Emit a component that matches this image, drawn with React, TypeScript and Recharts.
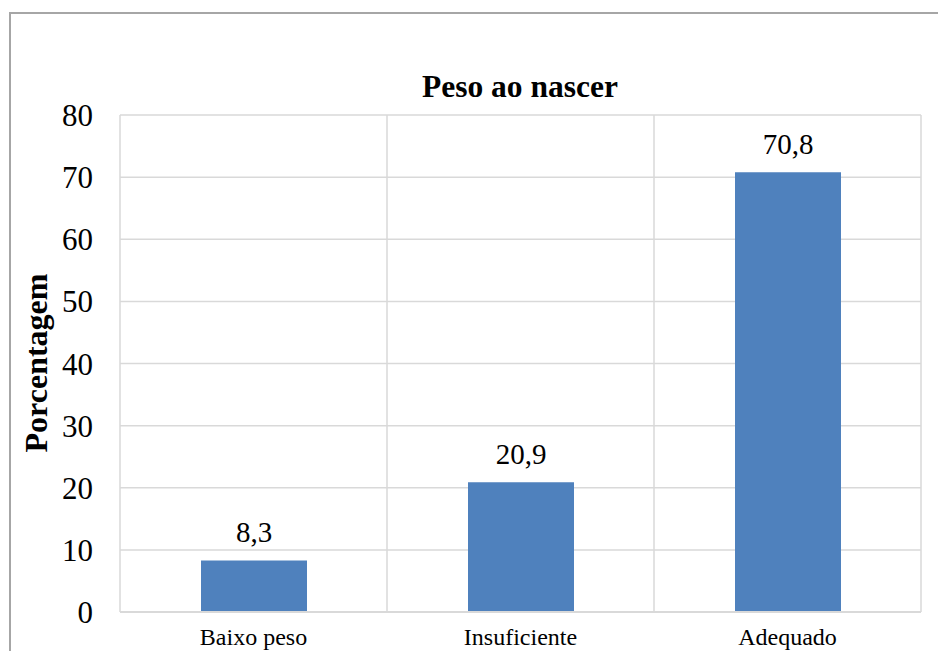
import { BarChart, Bar, XAxis, YAxis, CartesianGrid, LabelList } from "recharts";

const categories = ["Baixo peso", "Insuficiente", "Adequado"];
const values = [8.3, 20.9, 70.8];
const yTicks = [0, 10, 20, 30, 40, 50, 60, 70, 80];

const chartData = categories.map((name, i) => ({ name, value: values[i] }));

const serif = "Liberation Serif";
const gridColor = "#d9d9d9";

export default function App() {
  return (
    <div style={{ position: "absolute", left: 0, top: 0, width: 938, height: 651, overflow: "hidden", background: "#fff" }}>
      <div
        style={{
          position: "absolute",
          left: 9,
          top: 12,
          width: 960,
          height: 700,
          border: "2px solid #a6a6a6",
          boxSizing: "border-box",
        }}
      />
      <BarChart
        width={938}
        height={651}
        data={chartData}
        margin={{ top: 115, right: 17, bottom: 0, left: 60 }}
        style={{ position: "absolute", left: 0, top: 0, fontFamily: serif }}
      >
        <CartesianGrid
          stroke={gridColor}
          strokeWidth={1.5}
          verticalCoordinatesGenerator={({ offset }: any) =>
            [0, 1, 2, 3].map((i) => offset.left + (i * offset.width) / categories.length)
          }
        />
        <XAxis
          dataKey="name"
          height={39}
          axisLine={{ stroke: gridColor, strokeWidth: 2 }}
          tickLine={false}
          tickMargin={10}
          tick={{ fill: "#000", fontSize: 24, fontFamily: serif }}
        />
        <YAxis
          width={60}
          domain={[0, 80]}
          ticks={yTicks}
          axisLine={false}
          tickLine={false}
          tickMargin={21}
          tick={{ fill: "#000", fontSize: 31, fontFamily: serif }}
        />
        <Bar dataKey="value" fill="#4f81bd" barSize={106} isAnimationActive={false}>
          <LabelList
            dataKey="value"
            position="top"
            offset={18}
            formatter={(v: any) => String(v).replace(".", ",")}
            style={{ fill: "#000", fontSize: 29, fontFamily: serif }}
          />
        </Bar>
        <text x={520} y={97} textAnchor="middle" fontSize={31.5} fontWeight="bold" fontFamily={serif} fill="#000">
          Peso ao nascer
        </text>
        <text
          x={0}
          y={0}
          transform="translate(47, 363) rotate(-90)"
          textAnchor="middle"
          fontSize={32}
          fontWeight="bold"
          fontFamily={serif}
          fill="#000"
        >
          Porcentagem
        </text>
      </BarChart>
    </div>
  );
}
